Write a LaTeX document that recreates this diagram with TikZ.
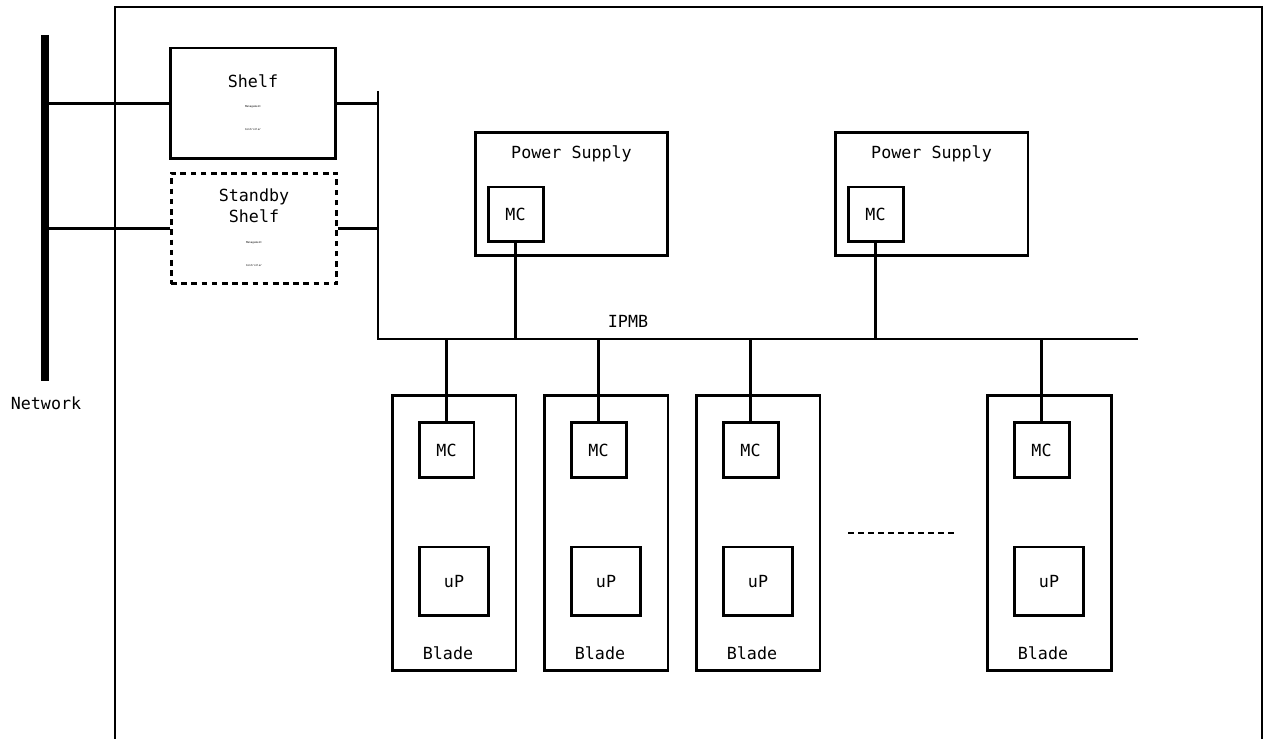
\documentclass[tikz,border=0pt]{standalone}
\usepackage{fontspec}
\setmonofont{DejaVu Sans Mono}
\usetikzlibrary{positioning}

\tikzset{
  txt/.style={font=\ttfamily\fontsize{9.5}{12}\selectfont, inner sep=0pt, align=center},
  tiny/.style={font=\ttfamily\fontsize{1.5}{1.7}\selectfont, inner sep=0pt},
  box/.style={draw, line width=1.7pt, inner sep=0pt},
  mcbox/.style={box, minimum width=1.1cm, minimum height=1.1cm, font=\ttfamily\fontsize{9.5}{12}\selectfont},
  upbox/.style={box, minimum width=1.38cm, minimum height=1.38cm, font=\ttfamily\fontsize{9.5}{12}\selectfont},
  wire/.style={line width=1.6pt}
}

\begin{document}
\begin{tikzpicture}[x=0.02cm, y=-0.02cm]
\useasboundingbox (0,0) rectangle (1263,739);
% outer frame, open at the bottom
\draw[line width=1.4pt] (115,745) -- (115,7) -- (1262,7) -- (1262,745);
% network
\coordinate (netT) at (45,35);
\coordinate (netB) at (45,381);
\draw[line width=4.5pt] (netT) -- (netB);
\node[txt] (netlabel) at (46,403) {Network};
% shelf managers
\node[box, minimum width=3.32cm, minimum height=2.22cm] (shelf) at (253,103.5) {};
\node[txt] (shelftxt) at ([yshift=-0.7cm]shelf.north) {Shelf};
\node[tiny] (shelfm) at ([yshift=-1.2cm]shelf.north) {Management};
\node[tiny] (shelfc) at ([yshift=-1.66cm]shelf.north) {Controller};
\node[box, dash pattern=on 3.2pt off 2.6pt, minimum width=3.32cm, minimum height=2.22cm] (standby) at (254,228.5) {};
\node[txt] (standbytxt) at ([yshift=-0.68cm]standby.north) {Standby\\Shelf};
\node[tiny] (standbym) at ([yshift=-1.42cm]standby.north) {Management};
\node[tiny] (standbyc) at ([yshift=-1.88cm]standby.north) {Controller};
% links to network
\draw[wire] (shelf.west) -- (shelf.west -| netT);
\draw[wire] (standby.west) -- (standby.west -| netT);
% IPMB bus
\coordinate (busT) at (378,91);
\coordinate (busL) at (378,339);
\coordinate (busR) at (1138,339);
\draw[wire] (busT) -- (busL) -- (busR);
\draw[wire] (shelf.east) -- (shelf.east -| busT);
\draw[wire] (standby.east) -- (standby.east -| busT);
\node[txt] (ipmb) at (628,321) {IPMB};
% power supplies
\foreach \i/\x in {1/571.5, 2/931.5} {
  \node[box, minimum width=3.86cm, minimum height=2.48cm] (ps\i) at (\x,194) {};
  \node[txt] (pstxt\i) at ([yshift=-0.47cm]ps\i.north) {Power Supply};
  \node[mcbox] (psmc\i) at ([xshift=-1.12cm, yshift=-0.41cm]ps\i.center) {MC};
  \draw[wire] (psmc\i.south) -- (psmc\i.south |- busL);
}
% blades
\foreach \i/\x in {1/454, 2/606, 3/758, 4/1049} {
  \node[box, minimum width=2.48cm, minimum height=5.52cm] (blade\i) at (\x,533) {};
  \node[mcbox] (mc\i) at ([xshift=-0.15cm, yshift=1.66cm]blade\i.center) {MC};
  \node[upbox] (up\i) at ([yshift=-0.97cm]blade\i.center) {uP};
  \node[txt] (bladetxt\i) at ([xshift=-0.12cm, yshift=0.38cm]blade\i.south) {Blade};
  \draw[wire] (mc\i.north) -- (mc\i.north |- busL);
}
% more blades
\coordinate (dotsL) at (848,533);
\coordinate (dotsR) at (954,533);
\draw[wire, dash pattern=on 3.4pt off 2.3pt] (dotsL) -- (dotsR);
\end{tikzpicture}
\end{document}
